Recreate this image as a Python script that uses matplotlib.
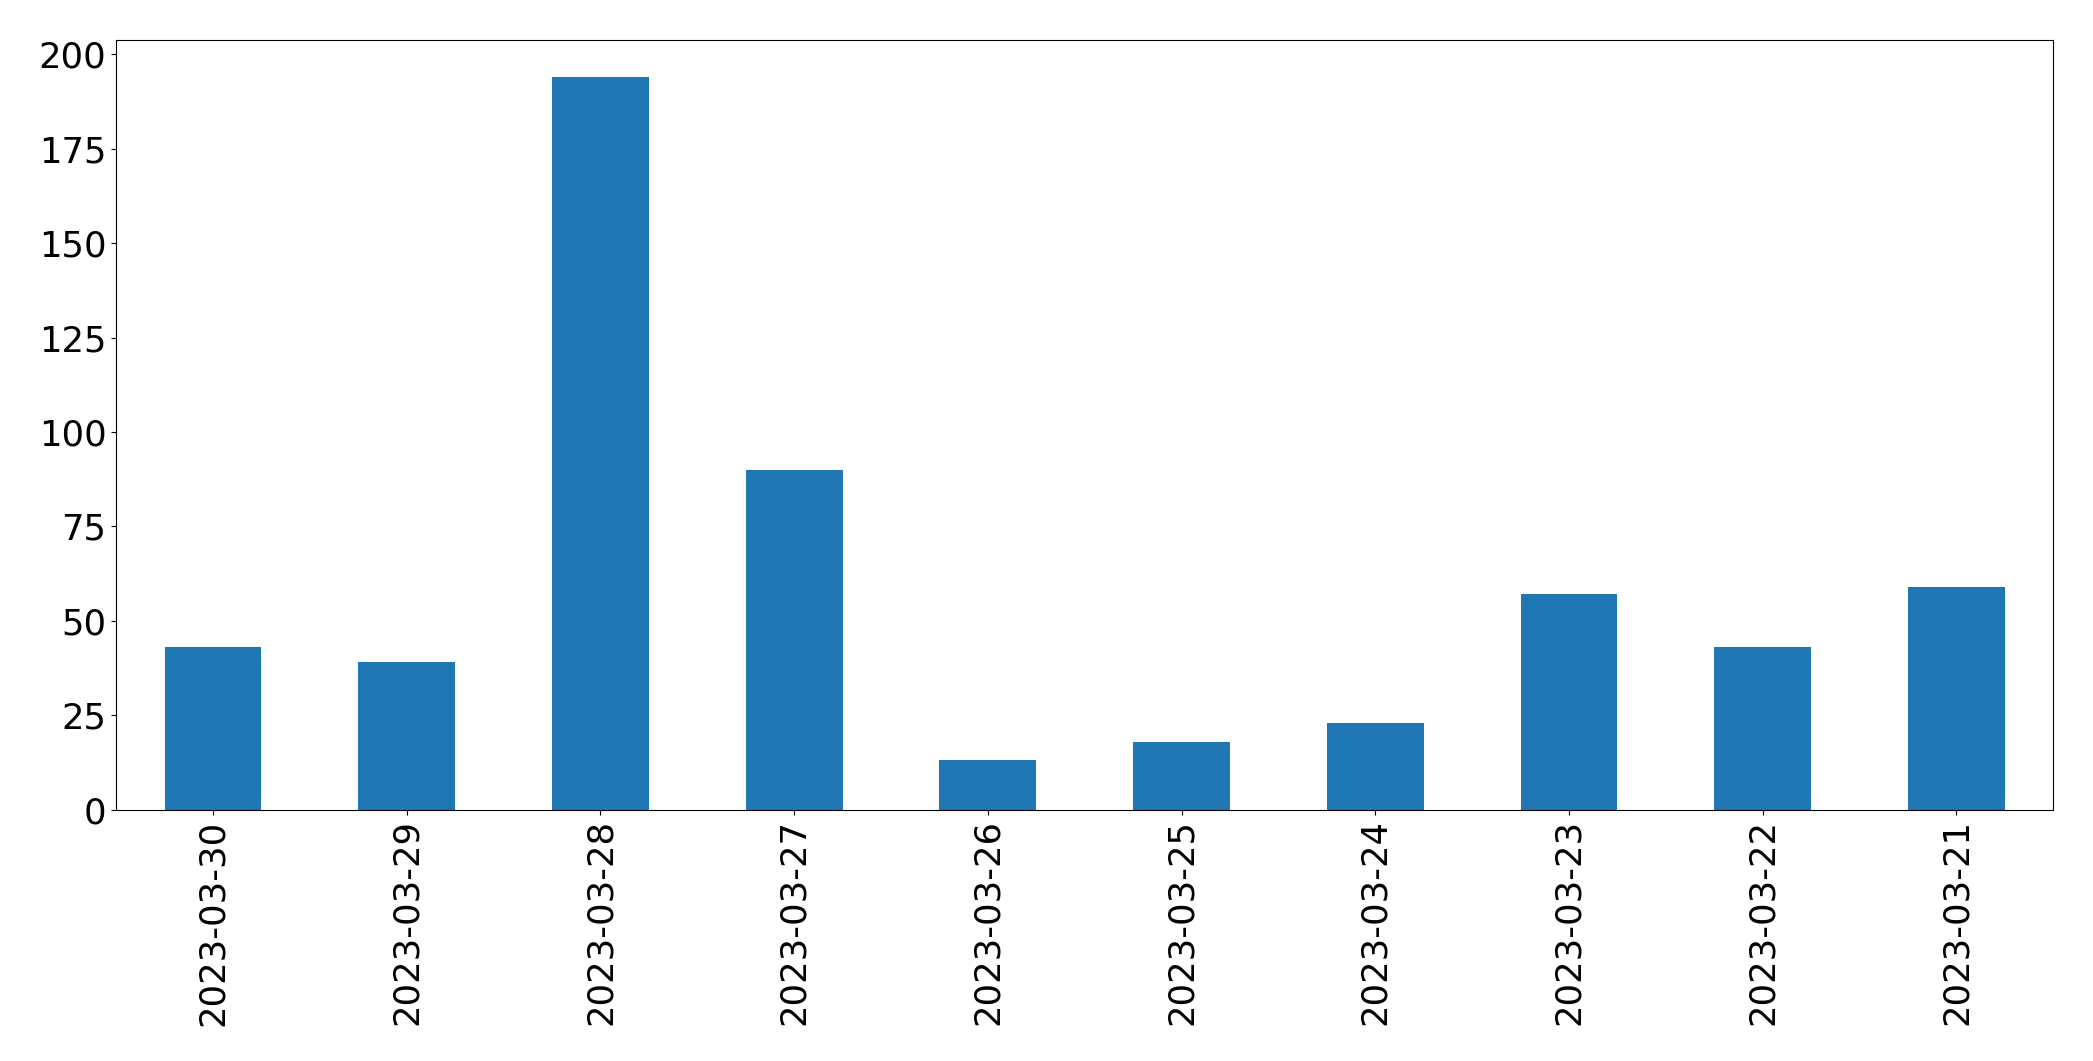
import matplotlib
matplotlib.use("Agg")
import matplotlib.pyplot as plt
import pandas as pd

dates = ["2023-03-30", "2023-03-29", "2023-03-28", "2023-03-27", "2023-03-26",
         "2023-03-25", "2023-03-24", "2023-03-23", "2023-03-22", "2023-03-21"]
counts = [43, 39, 194, 90, 13, 18, 23, 57, 43, 59]

s = pd.Series(counts, index=dates)

fig, ax = plt.subplots(figsize=(20.93, 10.61), dpi=100)
s.plot(kind="bar", ax=ax, color="#1f77b4")
ax.tick_params(axis="both", labelsize=25.5)
plt.subplots_adjust(left=0.0555, right=0.981, top=0.962, bottom=0.237)
plt.savefig("out.png", dpi=100)
